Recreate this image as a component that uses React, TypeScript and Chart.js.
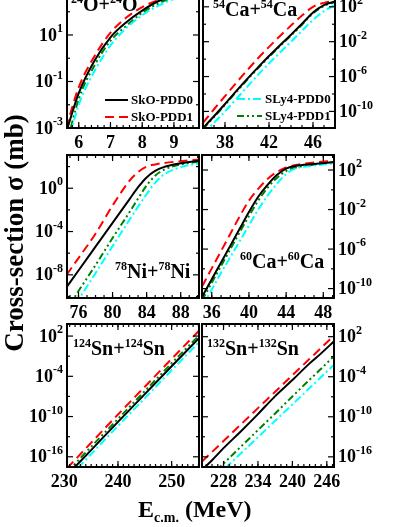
import React, { useEffect, useRef } from 'react';
import { Chart, registerables } from 'chart.js';
Chart.register(...registerables);

const W = 407;
const H = 527;
const OFF = 20; // canvas is shifted up so the top panels can start above the page
const FONT = '"Liberation Serif", "Times New Roman", serif';

const SERIES = ['SkO-PDD0', 'SkO-PDD1', 'SLy4-PDD0', 'SLy4-PDD1'];
const COLORS = ['#000000', '#FF0000', '#00FFFF', '#008000'];
const DASHES: number[][] = [[], [9, 5], [8, 3, 2, 3], [7, 3, 2, 3, 2, 3]];

// All series values are log10 of cross-section (mb)
// Panel 1: 24O + 24O
const o24E = [5.6, 6.0, 6.5, 7.0, 7.5, 8.0, 8.5, 9.0, 9.5, 9.85];
const o24SkO0 = [-3.2, -1.5, -0.1, 0.9, 1.55, 2.05, 2.45, 2.7, 2.85, 2.92];
const o24SkO1 = [-3.0, -1.25, 0.1, 1.1, 1.75, 2.2, 2.5, 2.72, 2.85, 2.92];
const o24SLy0 = [-4.0, -2.0, -0.55, 0.55, 1.3, 1.85, 2.25, 2.55, 2.75, 2.85];
const o24SLy1 = [-3.8, -1.75, -0.3, 0.75, 1.4, 1.95, 2.35, 2.62, 2.8, 2.88];

// Panel 2: 54Ca + 54Ca
const ca54E = [36, 37, 38, 39, 40, 41, 42, 43, 44, 45, 46, 47, 48];
const ca54SkO0 = [-11.9, -10.55, -9.15, -7.7, -6.3, -4.95, -3.65, -2.4, -1.2, 0.05, 1.35, 2.2, 2.6];
const ca54SkO1 = [-11.3, -9.75, -8.25, -6.75, -5.3, -3.9, -2.6, -1.35, -0.15, 1.0, 2.0, 2.45, 2.7];
const ca54SLy0 = [-12.6, -11.3, -10.0, -8.6, -7.2, -5.8, -4.5, -3.25, -2.0, -0.75, 0.5, 1.5, 2.2];
const ca54SLy1 = [-12.0, -10.65, -9.25, -7.8, -6.4, -5.05, -3.75, -2.5, -1.3, -0.05, 1.25, 2.1, 2.55];

// Panel 3: 78Ni + 78Ni
const ni78E = [74.6, 76, 78, 80, 82, 83, 84, 85, 86, 88, 90.2];
const ni78SkO0 = [-9.15, -7.6, -5.4, -3.2, -1.0, 0.1, 1.0, 1.6, 1.95, 2.3, 2.55];
const ni78SkO1 = [-8.0, -6.45, -4.2, -1.6, 0.7, 1.5, 2.0, 2.2, 2.33, 2.5, 2.65];
const ni78SLy0 = [-12.0, -10.3, -7.85, -5.35, -2.9, -1.7, -0.55, 0.5, 1.25, 1.95, 2.3];
const ni78SLy1 = [-11.2, -9.5, -7.1, -4.6, -2.2, -0.95, 0.25, 1.15, 1.7, 2.2, 2.45];

// Panel 4: 60Ca + 60Ca
const ca60E = [34.95, 36, 37, 38, 39, 40, 41, 42, 43, 44, 45, 47, 49.15];
const ca60SkO0 = [-10.85, -9.05, -7.35, -5.65, -3.95, -2.25, -0.7, 0.5, 1.5, 2.15, 2.4, 2.6, 2.8];
const ca60SkO1 = [-9.8, -7.95, -6.2, -4.45, -2.7, -1.1, 0.1, 1.1, 1.8, 2.25, 2.5, 2.75, 2.95];
const ca60SLy0 = [-11.8, -10.1, -8.4, -6.8, -5.2, -3.6, -2.0, -0.6, 0.6, 1.6, 2.15, 2.45, 2.68];
const ca60SLy1 = [-11.2, -9.4, -7.7, -6.0, -4.3, -2.65, -1.1, 0.2, 1.2, 1.9, 2.25, 2.55, 2.78];

// Panel 5: 124Sn + 124Sn
const sn124E = [230.5, 232, 235, 240, 245, 250, 255.1];
const sn124SkO0 = [-18.75, -17.5, -15.0, -10.8, -6.65, -2.5, 1.7];
const sn124SkO1 = [-17.7, -16.45, -13.9, -9.7, -5.55, -1.4, 2.8];
const sn124SLy0 = [-19.4, -18.1, -15.6, -11.4, -7.25, -3.1, 1.1];
const sn124SLy1 = [-18.3, -17.05, -14.5, -10.35, -6.2, -2.05, 2.1];

// Panel 6: 132Sn + 132Sn
const sn132E = [224.25, 226, 228, 231, 234, 237, 240, 243, 245, 247.25];
const sn132SkO0 = [-17.95, -16.5, -14.7, -12.2, -9.6, -6.9, -4.5, -2.0, -0.5, 1.3];
const sn132SkO1 = [-16.7, -15.27, -13.63, -11.17, -8.7, -6.25, -3.78, -1.32, 0.32, 2.17];
const sn132SLy0 = [-21.0, -19.6, -17.95, -15.5, -13.05, -10.6, -8.15, -5.7, -4.05, -2.2];
const sn132SLy1 = [-20.1, -18.66, -17.0, -14.5, -12.0, -9.5, -6.95, -4.45, -2.8, -0.9];

// Tick values
const o24XTicks = [6, 7, 8, 9];
const ca54XTicks = [38, 42, 46];
const ni78XTicks = [76, 80, 84, 88];
const ca60XTicks = [36, 40, 44, 48];
const sn124XTicks = [230, 240, 250];
const sn132XTicks = [228, 234, 240, 246];
const o24YTicks = [-3, -1, 1];
const ca54YTicks = [-10, -6, -2, 2];
const ni78YTicks = [-8, -4, 0];
const ca60YTicks = [-10, -6, -2, 2];
const sn124YTicks = [-16, -10, -4, 2];
const sn132YTicks = [-16, -10, -4, 2];

type Panel = {
  box: number[];
  xr: number[];
  yr: number[];
  xMajor: number[];
  xMinor: number;
  yMajor: number[];
  yMinor: number[];
  side: 'left' | 'right';
  e: number[];
  s: number[][];
  lab: string[];
  labPos: number[];
  legend?: { idx: number[]; x1: number; x2: number; ys: number[] };
};

const PANELS: Panel[] = [
  { box: [67, -15, 199, 128], xr: [5.63, 9.79], yr: [-3, 3.15], xMajor: o24XTicks, xMinor: 0.2,
    yMajor: [-3, -1, 1, 3], yMinor: [-2, 0, 2], side: 'left', e: o24E,
    s: [o24SkO0, o24SkO1, o24SLy0, o24SLy1], lab: ['24', 'O'], labPos: [71, 11],
    legend: { idx: [0, 1], x1: 105, x2: 128, ys: [100, 117] } },
  { box: [203, -15, 335, 128], xr: [36, 48], yr: [-11.9, 4.5], xMajor: ca54XTicks, xMinor: 1,
    yMajor: [-10, -6, -2, 2], yMinor: [-8, -4, 0, 4], side: 'right', e: ca54E,
    s: [ca54SkO0, ca54SkO1, ca54SLy0, ca54SLy1], lab: ['54', 'Ca'], labPos: [213, 16],
    legend: { idx: [2, 3], x1: 237, x2: 262, ys: [99, 116] } },
  { box: [67, 155, 199, 298], xr: [74.65, 90.15], yr: [-10.14, 3.07], xMajor: ni78XTicks, xMinor: 1,
    yMajor: [-8, -4, 0], yMinor: [-10, -6, -2, 2], side: 'left', e: ni78E,
    s: [ni78SkO0, ni78SkO1, ni78SLy0, ni78SLy1], lab: ['78', 'Ni'], labPos: [115, 278] },
  { box: [202, 155, 334, 298], xr: [34.95, 49.15], yr: [-10.95, 3.52], xMajor: ca60XTicks, xMinor: 1,
    yMajor: [-10, -6, -2, 2], yMinor: [-8, -4, 0], side: 'right', e: ca60E,
    s: [ca60SkO0, ca60SkO1, ca60SLy0, ca60SLy1], lab: ['60', 'Ca'], labPos: [240, 268] },
  { box: [67, 324, 199, 467], xr: [230.5, 255.1], yr: [-17.5, 3.8], xMajor: sn124XTicks, xMinor: 1,
    yMajor: [-16, -10, -4, 2], yMinor: [-13, -7, -1], side: 'left', e: sn124E,
    s: [sn124SkO0, sn124SkO1, sn124SLy0, sn124SLy1], lab: ['124', 'Sn'], labPos: [73, 355] },
  { box: [202, 324, 334, 467], xr: [224.25, 247.25], yr: [-17.5, 3.9], xMajor: sn132XTicks, xMinor: 1,
    yMajor: [-16, -10, -4, 2], yMinor: [-13, -7, -1], side: 'right', e: sn132E,
    s: [sn132SkO0, sn132SkO1, sn132SLy0, sn132SLy1], lab: ['132', 'Sn'], labPos: [207, 355] },
];
const Y_LABELS = [o24YTicks, ca54YTicks, ni78YTicks, ca60YTicks, sn124YTicks, sn132YTicks];

function font(size: number) {
  return `bold ${size}px ${FONT}`;
}

function makeDecor(p: Panel, pi: number) {
  return {
    id: 'decor' + pi,
    afterDraw(chart: any) {
      const ctx: CanvasRenderingContext2D = chart.ctx;
      const xs = chart.scales.x;
      const ys = chart.scales.y;
      const a = chart.chartArea;
      ctx.save();
      ctx.fillStyle = '#000';
      ctx.strokeStyle = '#000';
      ctx.setLineDash([]);
      // ticks
      ctx.lineWidth = 1.2;
      const tick = (x1: number, y1: number, x2: number, y2: number) => {
        ctx.beginPath(); ctx.moveTo(x1, y1); ctx.lineTo(x2, y2); ctx.stroke();
      };
      const xIn = (v: number) => v >= p.xr[0] - 1e-9 && v <= p.xr[1] + 1e-9;
      const kStart = Math.ceil(p.xr[0] / p.xMinor - 1e-6);
      for (let k = kStart; k * p.xMinor <= p.xr[1] + 1e-9; k++) {
        const px = xs.getPixelForValue(k * p.xMinor);
        tick(px, a.bottom, px, a.bottom - 3);
        tick(px, a.top, px, a.top + 3);
      }
      p.xMajor.forEach((v) => {
        if (!xIn(v)) return;
        const px = xs.getPixelForValue(v);
        tick(px, a.bottom, px, a.bottom - 6);
        tick(px, a.top, px, a.top + 6);
      });
      const yIn = (v: number) => v >= p.yr[0] - 1e-9 && v <= p.yr[1] + 1e-9;
      p.yMinor.forEach((v) => {
        if (!yIn(v)) return;
        const py = ys.getPixelForValue(Math.pow(10, v));
        tick(a.left, py, a.left + 3, py);
        tick(a.right, py, a.right - 3, py);
      });
      p.yMajor.forEach((v) => {
        if (!yIn(v)) return;
        const py = ys.getPixelForValue(Math.pow(10, v));
        tick(a.left, py, a.left + 6, py);
        tick(a.right, py, a.right - 6, py);
      });
      // frame
      ctx.lineWidth = 2;
      ctx.strokeRect(a.left, a.top, a.right - a.left, a.bottom - a.top);
      // x tick labels
      ctx.font = font(18);
      ctx.textAlign = 'center';
      ctx.textBaseline = 'alphabetic';
      p.xMajor.forEach((v) => {
        const px = xs.getPixelForValue(v);
        ctx.fillText(String(v), px, a.bottom + 20);
      });
      // y tick labels
      Y_LABELS[pi].forEach((v) => {
        const py = ys.getPixelForValue(Math.pow(10, v));
        ctx.font = font(18);
        const wb = ctx.measureText('10').width;
        ctx.font = font(12);
        const exp = String(v);
        const we = ctx.measureText(exp).width;
        const x0 = p.side === 'left' ? a.left - 4 - wb - we : a.right + 4;
        ctx.textAlign = 'left';
        ctx.textBaseline = 'middle';
        ctx.font = font(18);
        ctx.fillText('10', x0, py + 1);
        ctx.font = font(12);
        ctx.fillText(exp, x0 + wb, py - 6);
      });
      // panel label
      {
        let x = p.labPos[0];
        const by = p.labPos[1] + OFF;
        ctx.textAlign = 'left';
        ctx.textBaseline = 'alphabetic';
        const parts: [string, boolean][] = [[p.lab[0], true], [p.lab[1], false], ['+', false], [p.lab[0], true], [p.lab[1], false]];
        parts.forEach(([t, isSup]) => {
          ctx.font = font(isSup ? 12 : 20);
          ctx.fillText(t, x, isSup ? by - 8 : by);
          x += ctx.measureText(t).width;
        });
      }
      // legend
      if (p.legend) {
        const L = p.legend;
        L.idx.forEach((si, k) => {
          const y = L.ys[k] + OFF;
          ctx.strokeStyle = COLORS[si];
          ctx.lineWidth = 2;
          ctx.setLineDash(DASHES[si]);
          ctx.beginPath(); ctx.moveTo(L.x1, y); ctx.lineTo(L.x2, y); ctx.stroke();
          ctx.setLineDash([]);
          ctx.fillStyle = '#000';
          ctx.font = font(13);
          ctx.textAlign = 'left';
          ctx.textBaseline = 'middle';
          ctx.fillText(SERIES[si], L.x2 + 3, y + 1);
        });
      }
      // global axis titles (drawn once)
      if (pi === 0) {
        ctx.fillStyle = '#000';
        ctx.save();
        ctx.translate(16, 233 + OFF);
        ctx.rotate(-Math.PI / 2);
        ctx.font = font(27);
        ctx.textAlign = 'center';
        ctx.textBaseline = 'middle';
        ctx.fillText('Cross-section σ (mb)', 0, 0);
        ctx.restore();
        ctx.textAlign = 'left';
        ctx.textBaseline = 'alphabetic';
        let x = 138;
        const by = 517 + OFF;
        ctx.font = font(24);
        ctx.fillText('E', x, by);
        x += ctx.measureText('E').width;
        ctx.font = font(14);
        ctx.fillText('c.m.', x, by + 5);
        x += ctx.measureText('c.m.').width;
        ctx.font = font(24);
        ctx.fillText(' (MeV)', x, by);
      }
      ctx.restore();
    },
  };
}

function PanelChart({ p, pi }: { p: Panel; pi: number }) {
  const ref = useRef<HTMLCanvasElement | null>(null);
  useEffect(() => {
    if (!ref.current) return;
    const datasets = p.s.map((vals, i) => ({
      label: SERIES[i],
      data: p.e.map((x, j) => ({ x, y: Math.pow(10, vals[j]) })),
      borderColor: COLORS[i],
      borderDash: DASHES[i],
      borderWidth: 2,
      pointRadius: 0,
      fill: false,
      cubicInterpolationMode: 'monotone' as const,
    }));
    const chart = new Chart(ref.current, {
      type: 'line',
      data: { datasets },
      options: {
        responsive: false,
        animation: false,
        devicePixelRatio: 1,
        events: [],
        layout: {
          padding: {
            left: p.box[0],
            top: p.box[1] + OFF,
            right: W - p.box[2],
            bottom: H - p.box[3],
          },
        },
        scales: {
          x: { type: 'linear', min: p.xr[0], max: p.xr[1], display: false },
          y: { type: 'logarithmic', min: Math.pow(10, p.yr[0]), max: Math.pow(10, p.yr[1]), display: false },
        },
        plugins: { legend: { display: false }, tooltip: { enabled: false }, title: { display: false } },
      },
      plugins: [makeDecor(p, pi)],
    });
    return () => chart.destroy();
  }, []);
  return (
    <canvas
      ref={ref}
      width={W}
      height={H + OFF}
      style={{ position: 'absolute', left: 0, top: 0, width: W, height: H + OFF }}
    />
  );
}

export default function App() {
  return (
    <div style={{ position: 'fixed', left: 0, top: -OFF, width: W, height: H + OFF, background: '#fff' }}>
      {PANELS.map((p, i) => (
        <PanelChart key={i} p={p} pi={i} />
      ))}
    </div>
  );
}
